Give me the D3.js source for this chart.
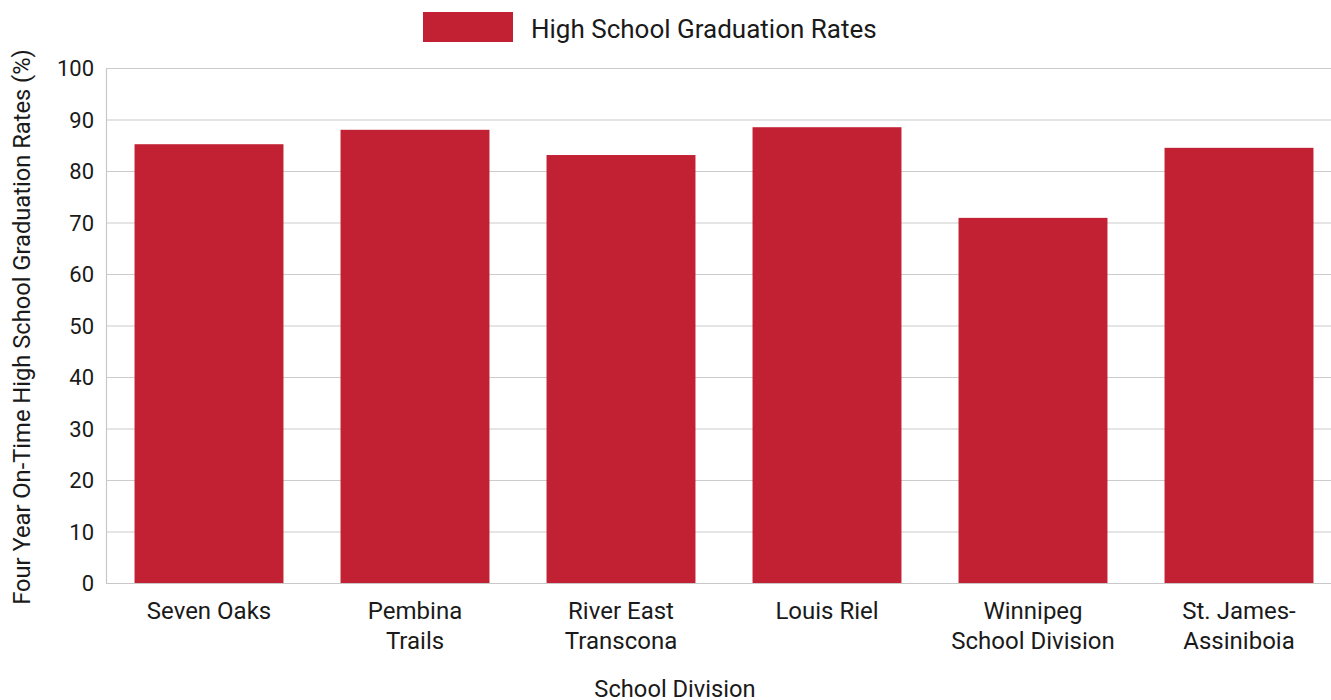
<!DOCTYPE html>
<html><head><meta charset="utf-8">
<script src="https://cdn.jsdelivr.net/npm/d3@7"></script>
<style>body{margin:0;background:#fff}svg{display:block;font-family:Roboto,"Noto Sans",sans-serif}</style>
</head><body><svg id="c" width="1331" height="700"></svg>
<script>
const categories = [["Seven Oaks"],["Pembina","Trails"],["River East","Transcona"],["Louis Riel"],["Winnipeg","School Division"],["St. James-","Assiniboia"]];
const values = [85.2, 88.0, 83.1, 88.5, 70.9, 84.5];
const yTicks = [0,10,20,30,40,50,60,70,80,90,100];
const seriesName = "High School Graduation Rates";
const yTitle = "Four Year On-Time High School Graduation Rates (%)";
const xTitle = "School Division";
const color = "#c22033";

const svg = d3.select("#c");
const x = d3.scaleBand().domain(d3.range(categories.length)).range([106,1342]).paddingInner(0.277).paddingOuter(0.1385);
const y = d3.scaleLinear().domain([0,100]).range([583,68]);

svg.append("g").selectAll("line").data(yTicks.slice(1)).join("line")
  .attr("x1",106).attr("x2",1331).attr("y1",d=>y(d)+0.5).attr("y2",d=>y(d)+0.5)
  .attr("stroke","#cccccc").attr("stroke-width",1.2);

svg.append("g").selectAll("rect").data(values).join("rect")
  .attr("x",(d,i)=>x(i)).attr("width",x.bandwidth())
  .attr("y",d=>y(d)).attr("height",d=>y(0)-y(d)).attr("fill",color);

svg.append("line").attr("x1",106.5).attr("x2",106.5).attr("y1",68).attr("y2",583.5).attr("stroke","#c8c8c8").attr("stroke-width",1.2);
svg.append("line").attr("x1",106).attr("x2",1331).attr("y1",583.5).attr("y2",583.5).attr("stroke","#c8c8c8").attr("stroke-width",1.2);

svg.append("g").selectAll("text").data(yTicks).join("text")
  .attr("x",94).attr("y",d=>y(d)+8).attr("text-anchor","end")
  .attr("font-size",22).attr("fill","#1a1a1a").text(d=>d);

const xl = svg.append("g").selectAll("text").data(categories).join("text")
  .attr("text-anchor","middle").attr("font-size",24).attr("fill","#1a1a1a")
  .attr("transform",(d,i)=>`translate(${x(i)+x.bandwidth()/2},0)`);
xl.selectAll("tspan").data(d=>d).join("tspan").attr("x",0).attr("y",(d,j)=>619+j*30).text(d=>d);

svg.append("text").attr("transform","translate(30,327) rotate(-90)").attr("text-anchor","middle")
  .attr("font-size",23.7).attr("fill","#1a1a1a").text(yTitle);
svg.append("text").attr("x",675).attr("y",697).attr("text-anchor","middle")
  .attr("font-size",23.7).attr("fill","#1a1a1a").text(xTitle);

svg.append("rect").attr("x",423).attr("y",12).attr("width",90).attr("height",30).attr("fill",color);
svg.append("text").attr("x",531).attr("y",38).attr("font-size",26).attr("fill","#1a1a1a").text(seriesName);
</script></body></html>
